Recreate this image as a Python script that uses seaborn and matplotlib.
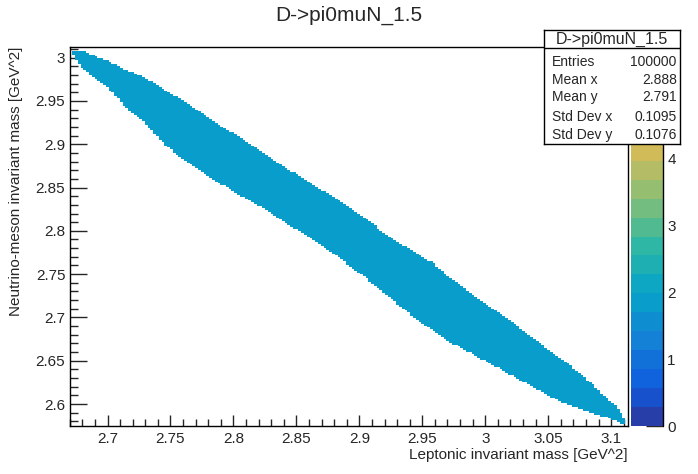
import numpy as np
import pandas as pd
import matplotlib
matplotlib.use("Agg")
import matplotlib.pyplot as plt
from matplotlib.colors import ListedColormap
from matplotlib.ticker import MultipleLocator, FormatStrFormatter
import seaborn as sns

# Texts
title = "D->pi0muN_1.5"
x_label = "Leptonic invariant mass [GeV^2]"
y_label = "Neutrino-meson invariant mass [GeV^2]"

# Histogram range / binning
x_range = [2.6698, 3.1134]
y_range = [2.5746, 3.0123]
n_bins = [200, 200]
z_max = 5.67
n_contours = 20
z_ticks = [0, 1, 2, 3, 4]   # 5 sits under the stats box

# Upper and lower edge of the filled region
upper_x = [2.6728, 2.6799, 2.6891, 2.7024, 2.7156, 2.7288, 2.7421, 2.7553,
           2.7685, 2.7817, 2.8002, 2.8267, 2.8532, 2.8796, 2.9061, 2.9325,
           2.9590, 2.9696, 2.9960, 3.0225, 3.0490, 3.0754, 3.0913, 3.1045,
           3.1098, 3.1106]
upper_y = [3.0083, 3.0083, 3.0025, 2.9948, 2.9852, 2.9775, 2.9660, 2.9544,
           2.9429, 2.9295, 2.9122, 2.8873, 2.8622, 2.8391, 2.8122, 2.7854,
           2.7623, 2.7488, 2.7200, 2.6931, 2.6642, 2.6354, 2.6142, 2.5969,
           2.5854, 2.5777]
lower_x = [2.6728, 2.6733, 2.6786, 2.6891, 2.7024, 2.7156, 2.7288, 2.7421,
           2.7553, 2.7685, 2.8002, 2.8267, 2.8532, 2.8796, 2.9061, 2.9431,
           2.9696, 2.9960, 3.0278, 3.0595, 3.0860, 3.0992, 3.1071, 3.1106]
lower_y = [3.0083, 3.0025, 2.9890, 2.9775, 2.9625, 2.9411, 2.9256, 2.9045,
           2.8872, 2.8737, 2.8449, 2.8238, 2.7987, 2.7738, 2.7442, 2.7007,
           2.6738, 2.6527, 2.6277, 2.6027, 2.5893, 2.5835, 2.5777, 2.5777]

# typical bin content inside the region (estimated from the colours)
typical_count = 1.9

# Stats box
stats_labels = ["Entries", "Mean x", "Mean y", "Std Dev x", "Std Dev y"]
stats_values = ["100000", "2.888", "2.791", "0.1095", "0.1076"]

# ROOT kBird palette
bird_stops = [0.0, 0.125, 0.25, 0.375, 0.5, 0.625, 0.75, 0.875, 1.0]
bird_red = [0.2082, 0.0592, 0.0780, 0.0232, 0.1802, 0.5301, 0.8186, 0.9956, 0.9764]
bird_green = [0.1664, 0.3599, 0.5041, 0.6419, 0.7178, 0.7492, 0.7328, 0.7862, 0.9832]
bird_blue = [0.5293, 0.8684, 0.8385, 0.7914, 0.6425, 0.4662, 0.3499, 0.1968, 0.0539]

# build the 20-level palette the way ROOT picks it
n_pal = 255
t = np.arange(n_pal) / (n_pal - 1)
pal = np.column_stack([np.interp(t, bird_stops, c) for c in (bird_red, bird_green, bird_blue)])
idx = [min(int((i + 0.99) * n_pal / n_contours), n_pal - 1) for i in range(n_contours)]
cmap = ListedColormap(pal[idx])

# bins inside the allowed region
x_edges = np.linspace(x_range[0], x_range[1], n_bins[0] + 1)
y_edges = np.linspace(y_range[0], y_range[1], n_bins[1] + 1)
xc = (x_edges[:-1] + x_edges[1:]) / 2
yc = (y_edges[:-1] + y_edges[1:]) / 2
gx, gy = np.meshgrid(xc, yc, indexing="ij")
top = np.interp(gx, upper_x, upper_y, left=np.nan, right=np.nan)
bot = np.interp(gx, lower_x, lower_y, left=np.nan, right=np.nan)
inside = (gy <= top) & (gy >= bot)
cells = pd.DataFrame({"m2_lep": gx[inside], "m2_nm": gy[inside]})
cells["count"] = typical_count

sns.set_style("ticks")
plt.rcParams["font.family"] = ["Liberation Sans", "DejaVu Sans"]

W, H = 698, 474
fig = plt.figure(figsize=(W / 100, H / 100), dpi=100)
ax = fig.add_axes([69.5 / W, 1 - 426 / H, (628 - 69.5) / W, (426 - 47) / H])
cax = fig.add_axes([631 / W, 1 - 426 / H, 32 / W, (426 - 47) / H])

sns.histplot(data=cells, x="m2_lep", y="m2_nm", weights="count",
             bins=[x_edges, y_edges], cmap=cmap, vmax=z_max,
             cbar=True, cbar_ax=cax, ax=ax)

ax.set_xlim(x_range)
ax.set_ylim(y_range)
ax.xaxis.set_major_locator(MultipleLocator(0.05))
ax.xaxis.set_minor_locator(MultipleLocator(0.01))
ax.yaxis.set_major_locator(MultipleLocator(0.05))
ax.yaxis.set_minor_locator(MultipleLocator(0.01))
ax.xaxis.set_major_formatter(FormatStrFormatter("%g"))
ax.yaxis.set_major_formatter(FormatStrFormatter("%g"))
ax.tick_params(axis="x", which="major", direction="in", length=7.9, width=1,
               labelsize=11, pad=4)
ax.tick_params(axis="x", which="minor", direction="in", length=4.8, width=1)
ax.tick_params(axis="y", which="major", direction="in", length=12, width=1,
               labelsize=11, pad=3)
ax.tick_params(axis="y", which="minor", direction="in", length=6, width=1)
for s in ax.spines.values():
    s.set_visible(True)
    s.set_linewidth(1)
    s.set_color("black")
ax.grid(False)
ax.set_xlabel(x_label, loc="right", fontsize=11, labelpad=2)
ax.set_ylabel(y_label, loc="top", fontsize=11, labelpad=9)

# colour palette axis
cbar = ax.collections[0].colorbar
cbar.outline.set_visible(False)
cbar.set_ticks(z_ticks)
cax.tick_params(direction="in", length=12.5, width=1, labelsize=11, pad=3,
                right=True, left=False)
cax.plot([1, 1], [0, 1], transform=cax.transAxes, color="black", lw=1, clip_on=False)

# title
fig.text(349 / W, 1 - 21 / H, title, ha="center", va="baseline", fontsize=15)

# stats box
sax = fig.add_axes([544.3 / W, 1 - 144.3 / H, (680 - 544.3) / W, (144.3 - 30) / H])
sax.set_xlim(0, 1)
sax.set_ylim(0, 1)
sax.set_xticks([])
sax.set_yticks([])
sax.set_facecolor("white")
for s in sax.spines.values():
    s.set_visible(True)
    s.set_linewidth(1)
    s.set_color("black")
box_h = 144.3 - 30
sax.axhline(1 - (47.7 - 30) / box_h, color="black", lw=1)
sax.text(0.5, 1 - (39 - 30) / box_h, title, ha="center", va="center", fontsize=11.5)
row_y = [61.7, 80, 97.3, 116.7, 135]
for lab, val, yy in zip(stats_labels, stats_values, row_y):
    yf = 1 - (yy - 30) / box_h
    sax.text((551.7 - 544.3) / (680 - 544.3), yf, lab, ha="left", va="center", fontsize=10)
    sax.text((676.7 - 544.3) / (680 - 544.3), yf, val, ha="right", va="center", fontsize=10)

fig.savefig("out.png", dpi=100)
